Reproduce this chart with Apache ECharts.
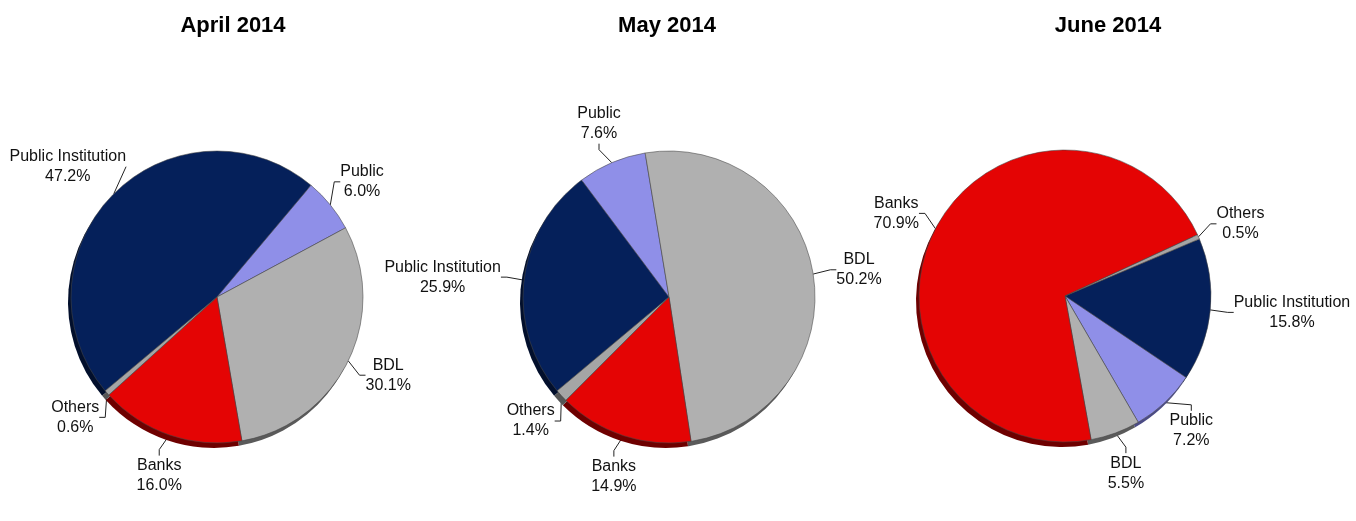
<!DOCTYPE html>
<html>
<head>
<meta charset="utf-8">
<script src="https://cdn.jsdelivr.net/npm/echarts@6/dist/echarts.min.js"></script>
<style>
  html, body { margin: 0; background: #fff; }
  #chart { width: 1356px; height: 521px; }
</style>
</head>
<body>
<div id="chart"></div>
<script>
// values (percent shares)
const months = ["April 2014", "May 2014", "June 2014"];
const categories = ["Public Institution", "Public", "BDL", "Banks", "Others"];
const april = [47.2, 6.0, 30.1, 16.0, 0.6];
const may = [25.9, 7.6, 50.2, 14.9, 1.4];
const june = [15.8, 7.2, 5.5, 70.9, 0.5];

const colors = ["#05205a", "#8f8fe8", "#b0b0b0", "#e40404", "#a5a5a5"];
const rimColors = ["#020f2c", "#4b4b85", "#5a5a5a", "#6e0000", "#555555"];

const centers = [[217, 297], [669, 297], [1065, 296]];
const titleX = [228, 662, 1103];
const startAngles = [220, 220, 23];
const radius = 146;
const font = '"Liberation Sans", Helvetica, Arial, sans-serif';

// push each label out along its slice direction and center its lines
function labelPlacer(c) {
  return function (p) {
    const pts = p.labelLinePoints;
    if (!pts) return {};
    const r = p.labelRect;
    const ax = pts[0][0], ay = pts[0][1];
    let ux = ax - c[0], uy = ay - c[1];
    const len = Math.sqrt(ux * ux + uy * uy) || 1;
    ux /= len; uy /= len;
    const gap = 24;
    return {
      x: ax + ux * gap + ux * Math.abs(ux) * r.width / 2,
      y: ay + uy * gap + uy * Math.abs(uy) * r.height / 2,
      align: "center",
      verticalAlign: "middle"
    };
  };
}

const sets = [april, may, june];
const chart = echarts.init(document.getElementById("chart"));

const rims = sets.map((vals, i) => ({
  type: "pie",
  silent: true,
  center: [centers[i][0] - 3, centers[i][1] + 5],
  radius: radius,
  startAngle: startAngles[i],
  data: categories.map((n, k) => ({ name: n, value: vals[k] })),
  itemStyle: { color: (p) => rimColors[p.dataIndex] },
  label: { show: false },
  labelLine: { show: false }
}));

const pies = sets.map((vals, i) => ({
  type: "pie",
  center: centers[i],
  radius: radius,
  startAngle: startAngles[i],
  avoidLabelOverlap: false,
  data: categories.map((n, k) => ({ name: n, value: vals[k] })),
  itemStyle: {
    color: (p) => colors[p.dataIndex],
    borderColor: "rgba(70,70,70,0.7)",
    borderWidth: 0.8
  },
  label: {
    formatter: (p) => p.name + "\n" + p.value.toFixed(1) + "%",
    fontSize: 16,
    lineHeight: 20,
    fontFamily: font,
    color: "#111"
  },
  labelLine: { length: 12, length2: 6, lineStyle: { color: "#222", width: 1 } },
  labelLayout: labelPlacer(centers[i]),
  emphasis: { disabled: true }
}));

chart.setOption({
  animation: false,
  title: months.map((m, i) => ({
    text: m,
    left: titleX[i],
    top: 10,
    textAlign: "center",
    textStyle: { fontSize: 22, fontWeight: "bold", fontFamily: font, color: "#000" }
  })),
  series: rims.concat(pies)
});
</script>
</body>
</html>
